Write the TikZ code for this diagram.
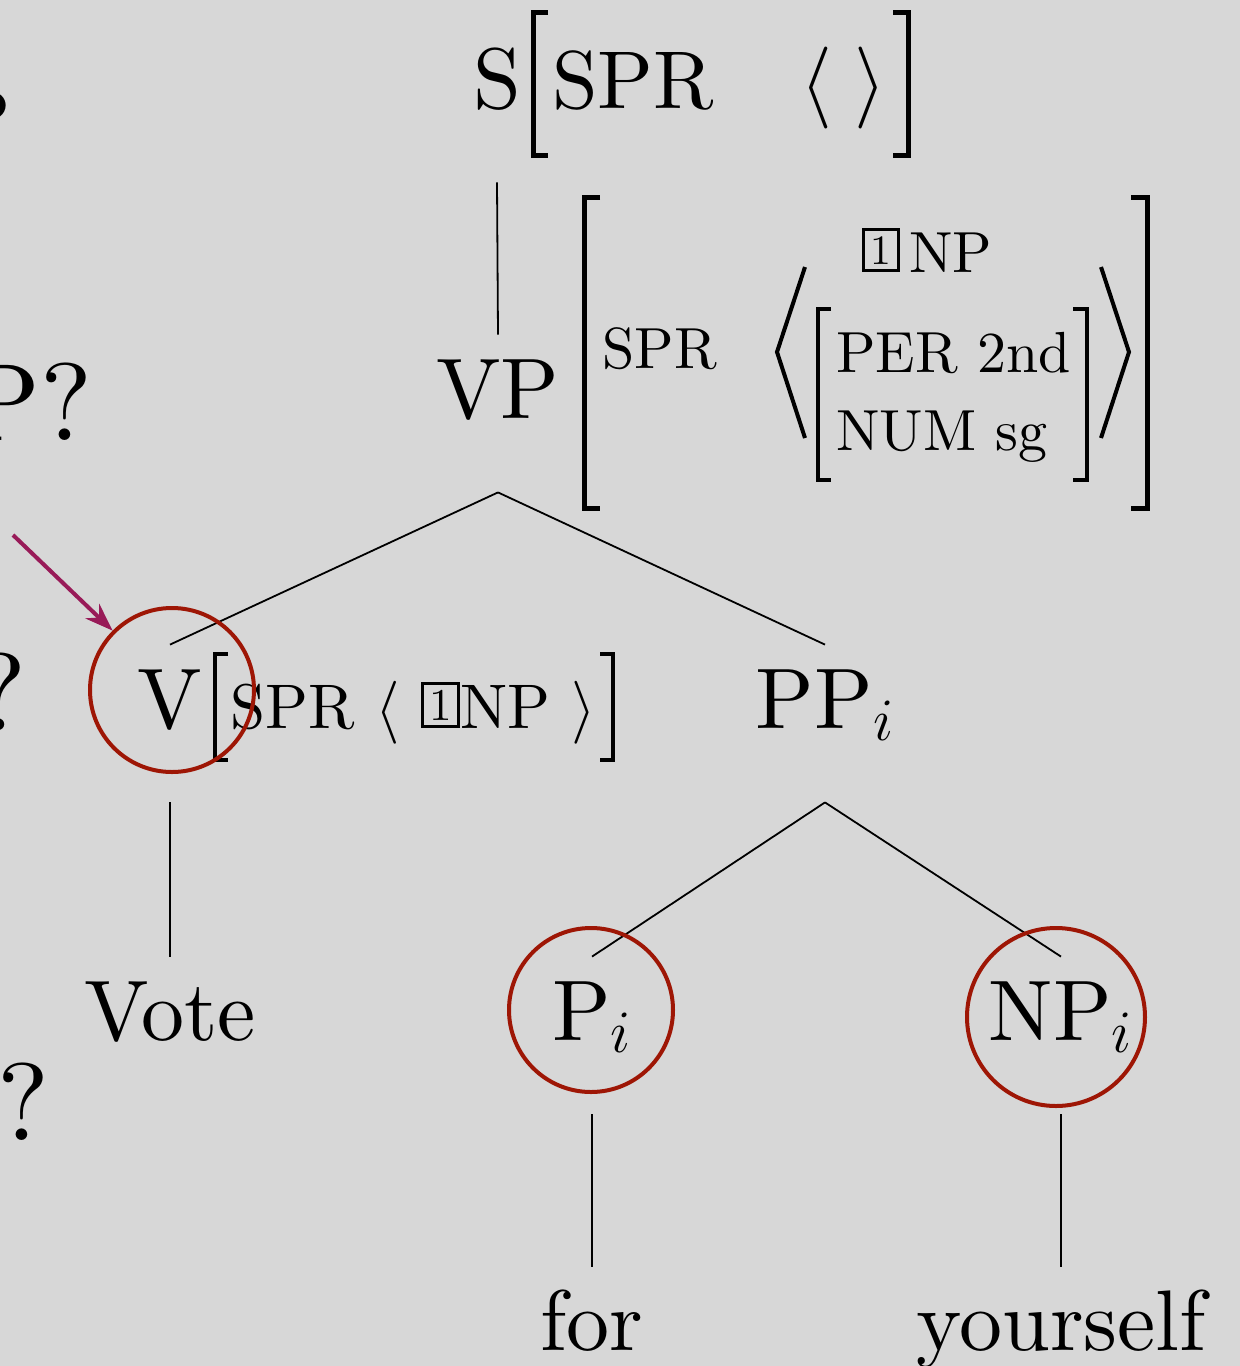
\RequirePackage{fix-cm}
\documentclass[tikz,border=0pt]{standalone}
\usepackage{fontspec}
\setmainfont{lmroman10-regular}[Extension=.otf,ItalicFont=lmroman10-italic,BoldFont=lmroman10-bold]
\usepackage{graphicx}
\usetikzlibrary{arrows.meta}

\definecolor{slidegray}{RGB}{215,215,215}
\definecolor{ringred}{RGB}{158,22,5}
\definecolor{hintpurple}{RGB}{152,26,88}

% boxed tag number
\newcommand{\tagnum}[1]{\raisebox{4pt}{\setlength{\fboxsep}{2.6pt}\setlength{\fboxrule}{1.5pt}\fbox{\scalebox{0.72}{#1}}}}

\begin{document}
\begin{tikzpicture}[x=0.5pt,y=-0.5pt,
  cat/.style={anchor=base,inner sep=0pt,text height=41.5pt,text depth=37pt,font=\fontsize{43}{50}\selectfont},
  cutoff/.style={anchor=base east,inner sep=0pt,font=\fontsize{55}{64}\selectfont},
  avm/.style={anchor=base west,inner sep=0pt},
  branch/.style={line width=0.9pt},
  brk/.style={line width=2.5pt},
  ring/.style={draw=ringred,line width=2pt,circle,inner sep=0pt,minimum size=82pt},
  pointer/.style={draw=hintpurple,line width=2pt,-{Stealth[length=14pt,width=10pt]}}]

\useasboundingbox (0,0) rectangle (1240,1366);
\clip (0,0) rectangle (1240,1366);
\fill[slidegray] (0,0) rectangle (1240,1366);

% text cut off by the left edge
\node[cutoff] (q1) at (13,168) {?};
\node[cutoff] (q2) at (93,440) {P?};
\node[cutoff] (q3) at (27,730) {?};
\node[cutoff] (q4) at (50,1140) {?};

% tree
\node[cat] (s) at (497,108) {S};
\node[cat] (vp) at (498,418) {VP};
\node[cat] (v) at (170,728) {V};
\node[cat] (pp) at (825,728) {$\mathrm{PP}_i$};
\node[cat] (vote) at (170,1040) {Vote};
\node[cat] (p) at (592,1040) {$\mathrm{P}_i$};
\node[cat] (np) at (1061,1040) {$\mathrm{NP}_i$};
\node[cat] (for) at (592,1350) {for};
\node[cat] (yourself) at (1061,1350) {yourself};

\draw[branch] (s.south) -- (vp.north);
\draw[branch] (vp.south) -- (v.north);
\draw[branch] (vp.south) -- (pp.north);
\draw[branch] (v.south) -- (vote.north);
\draw[branch] (pp.south) -- (p.north);
\draw[branch] (pp.south) -- (np.north);
\draw[branch] (p.south) -- (for.north);
\draw[branch] (np.south) -- (yourself.north);

% S
\node[avm,font=\fontsize{41}{48}\selectfont] (sspr) at (552,108) {SPR\hspace{43pt}$\langle\;\rangle$};
\draw[brk] (548,12) -- (533,12) -- (533,155) -- (548,155);
\draw[brk] (893,12) -- (908,12) -- (908,155) -- (893,155);

% VP
\node[avm,font=\fontsize{29}{34}\selectfont] (vpspr) at (602,368) {SPR};
\node[avm,font=\fontsize{29}{34}\selectfont] (vptag) at (862,272) {\tagnum{1}\,NP};
\node[avm,font=\fontsize{29}{34}\selectfont] (per) at (836,372) {PER 2nd};
\node[avm,font=\fontsize{29}{34}\selectfont] (num) at (836,450) {NUM sg};
\draw[brk] (600,197) -- (584,197) -- (584,508) -- (600,508);
\draw[brk] (1131,197) -- (1147,197) -- (1147,508) -- (1131,508);
\draw[line width=2pt] (805,267) -- (777,352) -- (805,438);
\draw[line width=2pt] (1101,267) -- (1129,352) -- (1101,438);
\draw[line width=2.2pt] (831,309) -- (818,309) -- (818,480) -- (831,480);
\draw[line width=2.2pt] (1073,309) -- (1087,309) -- (1087,480) -- (1073,480);

% V
\node[avm,font=\fontsize{31.5}{38}\selectfont] (vspr) at (230,728) {SPR $\langle$ \tagnum{1}NP $\rangle$};
\draw[line width=2pt] (228,654) -- (215,654) -- (215,760) -- (228,760);
\draw[line width=2pt] (600,654) -- (613,654) -- (613,760) -- (600,760);

% circled heads
\node[ring] (vring) at (172,690) {};
\node[ring] (pring) at (591,1010) {};
\node[ring,minimum size=89pt] (npring) at (1056,1017) {};

\coordinate (hint) at (13,535);
\draw[pointer] (hint) -- (vring.north west);
\end{tikzpicture}
\end{document}
